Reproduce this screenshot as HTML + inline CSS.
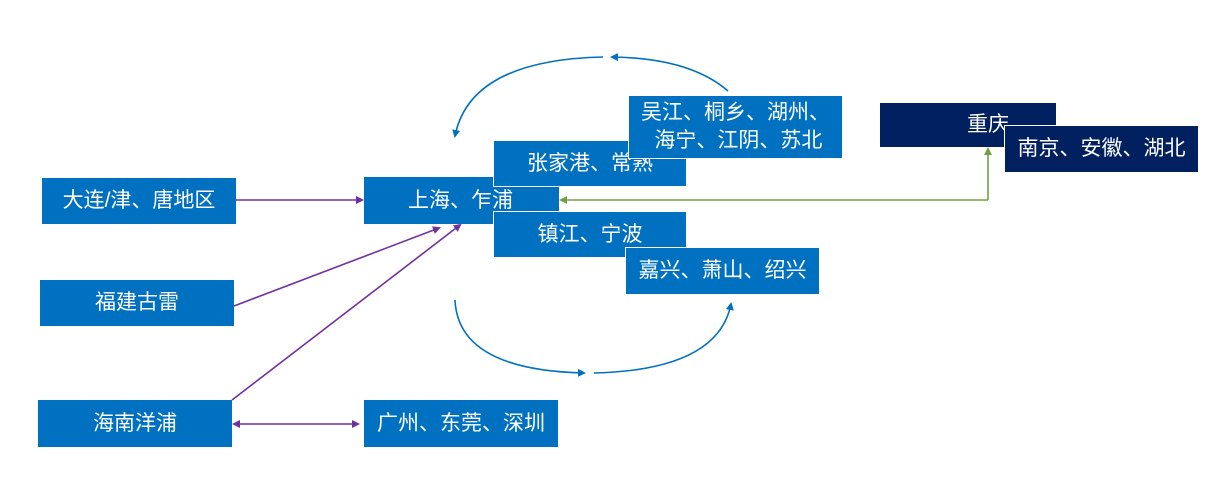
<!DOCTYPE html>
<html><head><meta charset="utf-8"><style>
body{margin:0;width:1227px;height:483px;background:#fff;position:relative;overflow:hidden;font-family:"Liberation Sans","Noto Sans CJK SC",sans-serif}
.b{position:absolute;background:#0070c0;color:#fff;font-size:21px;display:flex;align-items:center;justify-content:center;box-sizing:border-box;text-align:center;line-height:28px;white-space:nowrap}
.w{border:1.5px solid #fff}
.d{background:#002060}
svg{position:absolute;left:0;top:0}
</style></head><body>
<div class="b" style="left:42px;top:178px;width:194px;height:46px">大连/津、唐地区</div>
<div class="b" style="left:40px;top:280px;width:194px;height:46px">福建古雷</div>
<div class="b" style="left:38px;top:400px;width:194px;height:47px">海南洋浦</div>
<div class="b" style="left:364px;top:400px;width:194px;height:47px">广州、东莞、深圳</div>
<div class="b" style="left:364px;top:177px;width:195px;height:47px;justify-content:flex-start;padding-left:44px">上海、乍浦</div>
<div class="b w" style="left:493px;top:140px;width:194px;height:47px">张家港、常熟</div>
<div class="b w" style="left:493px;top:211px;width:194px;height:47px">镇江、宁波</div>
<div class="b w" style="left:628px;top:95px;width:215px;height:64px">吴江、桐乡、湖州、<br>&nbsp;海宁、江阴、苏北</div>
<div class="b w" style="left:625px;top:247px;width:195px;height:48px">嘉兴、萧山、绍兴</div>
<div class="b d" style="left:880px;top:103px;width:176px;height:44px;padding-left:40px">重庆</div>
<div class="b d w" style="left:1004px;top:125px;width:195px;height:48px">南京、安徽、湖北</div>
<svg width="1227" height="483">
<defs>
<marker id="bl" markerWidth="8" markerHeight="8" refX="6" refY="4" orient="auto" markerUnits="userSpaceOnUse"><path d="M0,0L8,4L0,8z" fill="#0070c0"/></marker>
<marker id="pu" markerWidth="8" markerHeight="8" refX="6" refY="4" orient="auto-start-reverse" markerUnits="userSpaceOnUse"><path d="M0,0L8,4L0,8z" fill="#7030a0"/></marker>
<marker id="gr" markerWidth="8" markerHeight="8" refX="6" refY="4" orient="auto" markerUnits="userSpaceOnUse"><path d="M0,0L8,4L0,8z" fill="#70a040"/></marker>
</defs>
<g fill="none" stroke-width="1.6">
<path d="M728,91 Q690,58 612,57" stroke="#0070c0" marker-end="url(#bl)"/>
<path d="M603,57 Q470,60 455,136" stroke="#0070c0" marker-end="url(#bl)"/>
<path d="M455,300 Q458,370 584,373" stroke="#0070c0" marker-end="url(#bl)"/>
<path d="M594,373 Q718,370 731,304" stroke="#0070c0" marker-end="url(#bl)"/>
<path d="M236,200 L362,200" stroke="#7030a0" marker-end="url(#pu)"/>
<path d="M234,306 L439,228" stroke="#7030a0" marker-end="url(#pu)"/>
<path d="M232,400 L460,225" stroke="#7030a0" marker-end="url(#pu)"/>
<path d="M234,424 L358,424" stroke="#7030a0" marker-start="url(#pu)" marker-end="url(#pu)"/>
<path d="M988,200 L561,200" stroke="#70a040" marker-end="url(#gr)"/>
<path d="M988,200 L988,149" stroke="#70a040" marker-end="url(#gr)"/>
</g>
</svg>
</body></html>
